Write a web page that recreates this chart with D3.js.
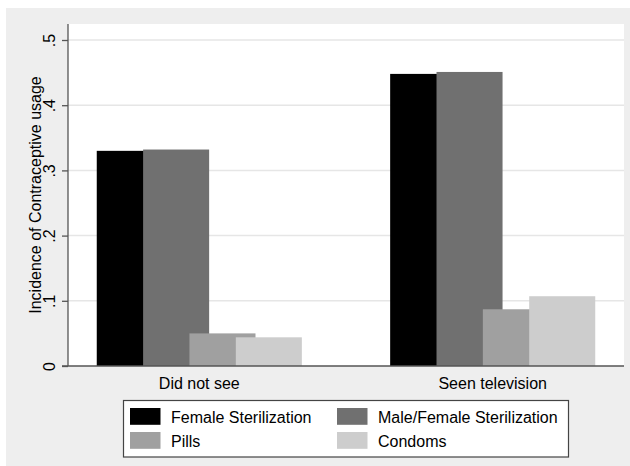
<!DOCTYPE html>
<html>
<head>
<meta charset="utf-8">
<script src="https://cdn.jsdelivr.net/npm/d3@7"></script>
<style>
  html, body { margin: 0; padding: 0; background: #ffffff; }
  svg { display: block; }
  text { font-family: "Liberation Sans", Arial, sans-serif; fill: #000; }
</style>
</head>
<body>
<svg id="chart" width="630" height="466"></svg>
<script>
// Groups on the x axis
const groups = ["Did not see", "Seen television"];
// Contraceptive methods (one bar each per group)
const methods = ["Female Sterilization", "Male/Female Sterilization", "Pills", "Condoms"];
// Incidence per method, one array per group (same order as methods)
const didNotSee = [0.330, 0.332, 0.050, 0.044];
const seenTelevision = [0.448, 0.451, 0.087, 0.107];
// Y axis ticks and their labels
const yTicks = [0, 0.1, 0.2, 0.3, 0.4, 0.5];
const yTickLabels = ["0", ".1", ".2", ".3", ".4", ".5"];
const yTitle = "Incidence of Contraceptive usage";
const methodColors = ["#000000", "#707070", "#a0a0a0", "#cdcdcd"];

const values = [didNotSee, seenTelevision];

const svg = d3.select("#chart");
const W = 630, H = 466;

// Outer panel
svg.append("rect").attr("x", 6).attr("y", 8).attr("width", W - 6).attr("height", H - 8)
  .attr("fill", "#eeeeee");

// Plot region
const plot = { left: 68, right: 624, top: 24, bottom: 366 };
svg.append("rect")
  .attr("x", plot.left).attr("y", plot.top)
  .attr("width", plot.right - plot.left).attr("height", plot.bottom - plot.top)
  .attr("fill", "#ffffff");

const y = d3.scaleLinear().domain([0, 0.5]).range([plot.bottom, 40]);

const x0 = d3.scaleBand().domain(groups).range([plot.left, plot.right])
  .paddingInner(0.301).paddingOuter(0.098);
const bw = x0.bandwidth();
const barW = bw * 0.322;            // bars are wider than their step, so neighbours overlap
const x1 = d3.scaleLinear().domain([0, methods.length - 1]).range([0, bw - barW]);

// Grid lines
svg.append("g").selectAll("line")
  .data(yTicks.filter(t => t > 0))
  .join("line")
  .attr("x1", plot.left).attr("x2", plot.right)
  .attr("y1", d => y(d)).attr("y2", d => y(d))
  .attr("stroke", "#e6e6e6").attr("stroke-width", 1.5);

// Bars (drawn in method order, later bars overlap earlier ones)
const barG = svg.append("g");
groups.forEach((g, gi) => {
  barG.append("g")
    .selectAll("rect")
    .data(values[gi].map((v, i) => ({ v, i })))
    .join("rect")
    .attr("x", d => x0(g) + x1(d.i))
    .attr("width", barW)
    .attr("y", d => y(d.v))
    .attr("height", d => y(0) - y(d.v))
    .attr("fill", d => methodColors[d.i]);
});

// Y axis
const yAxis = d3.axisLeft(y).tickValues(yTicks)
  .tickFormat((d, i) => yTickLabels[i]).tickSize(6).tickPadding(0);
const yg = svg.append("g").attr("transform", `translate(${plot.left},0)`).call(yAxis);
yg.select(".domain").attr("d", `M0,${plot.top}V${plot.bottom}`).attr("stroke", "#555").attr("stroke-width", 1.3);
yg.selectAll(".tick line").attr("stroke", "#555").attr("stroke-width", 1.3);
yg.selectAll(".tick text")
  .attr("font-size", 16)
  .attr("x", null).attr("dy", null)
  .attr("text-anchor", "middle")
  .attr("transform", "translate(-13.5,0) rotate(-90)")
  .style("font-family", "'Liberation Sans', Arial, sans-serif")
  .attr("fill", "#000");

// Y axis title
svg.append("text")
  .attr("transform", `translate(40.5,${(plot.top + plot.bottom) / 2}) rotate(-90)`)
  .attr("text-anchor", "middle")
  .attr("font-size", 16)
  .text(yTitle);

// X axis line and group labels
const xAxis = d3.axisBottom(x0).tickSize(0).tickPadding(0);
const xg = svg.append("g").attr("transform", `translate(0,${plot.bottom})`).call(xAxis);
xg.select(".domain").attr("d", `M${plot.left - 6},0H${plot.right}`).attr("stroke", "#555").attr("stroke-width", 1.3);
xg.selectAll(".tick text")
  .attr("y", 23).attr("dy", null)
  .attr("font-size", 16)
  .style("font-family", "'Liberation Sans', Arial, sans-serif")
  .attr("fill", "#000");

// Legend
const lg = svg.append("g");
lg.append("rect")
  .attr("x", 123.5).attr("y", 400.5).attr("width", 445).attr("height", 56.5)
  .attr("fill", "#ffffff").attr("stroke", "#444").attr("stroke-width", 1.2);
const colX = [130, 337];
const rowY = [408, 432];
const items = lg.selectAll("g.item")
  .data(methods.map((m, i) => ({ m, i })))
  .join("g").attr("class", "item")
  .attr("transform", d => `translate(${colX[d.i % 2]},${rowY[Math.floor(d.i / 2)]})`);
items.append("rect")
  .attr("width", 30.5).attr("height", 16.8)
  .attr("fill", d => methodColors[d.i]);
items.append("text")
  .attr("x", 41).attr("y", 14.5)
  .attr("font-size", 16)
  .text(d => d.m);
</script>
</body>
</html>
